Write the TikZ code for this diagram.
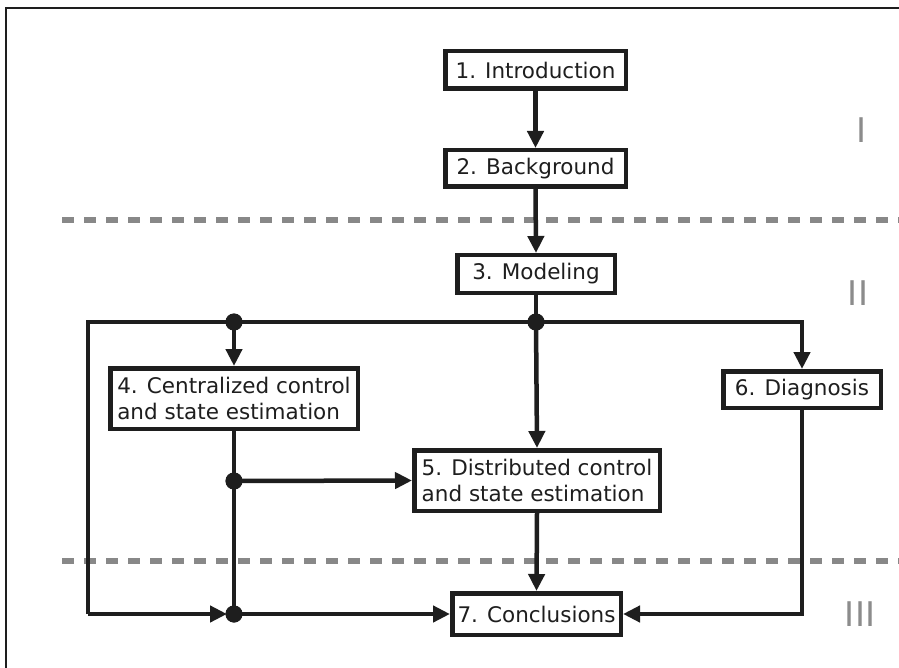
\documentclass[tikz,border=0pt]{standalone}
\usepackage{fontspec}
\setmainfont{DejaVu Sans}
\usetikzlibrary{arrows.meta}
\definecolor{ink}{RGB}{30,30,30}
\definecolor{sep}{RGB}{136,136,136}
\definecolor{roman}{RGB}{140,140,140}
\begin{document}
\begin{tikzpicture}[x=1pt,y=-1pt,
  box/.style={draw=ink,line width=4.5pt,fill=white,inner sep=0pt,text=ink,
    font=\fontsize{21.5}{25.8}\selectfont},
  conn/.style={draw=ink,line width=4.5pt},
  arr/.style={conn,-{Triangle[length=17pt,width=16pt]}},
  dotj/.style={circle,fill=ink,inner sep=0pt,minimum size=17pt},
  sepline/.style={draw=sep,line width=6pt,dash pattern=on 12pt off 10pt},
  rom/.style={text=roman,font=\fontsize{34}{40}\selectfont}]
\useasboundingbox (0,0) rectangle (899,668);
\fill[white] (0,0) rectangle (899,668);
\draw[draw=ink,line width=1.2pt] (899,8) -- (6,8) -- (6,668);
% separators
\draw[sepline] (62,220) -- (899,220);
\draw[sepline] (62,561) -- (899,561);
% roman numerals
\node[rom] (r1) at (862,130) {I};
\node[rom] (r2) at (858,293) {II};
\node[rom] (r3) at (860,614) {III};
% boxes
\node[box,minimum width=180.5pt,minimum height=37.5pt] (b1) at (535.5,70) {1. Introduction};
\node[box,minimum width=180.5pt,minimum height=36.5pt] (b2) at (535.5,168.5) {2. Background};
\node[box,minimum width=157.5pt,minimum height=37.5pt] (b3) at (536,274) {3. Modeling};
\node[box,minimum width=247.5pt,minimum height=60.5pt,align=left] (b4) at (234,398.5) {4. Centralized control\\and state estimation};
\node[box,minimum width=245.5pt,minimum height=60.5pt,align=left] (b5) at (537,480.5) {5. Distributed control\\and state estimation};
\node[box,minimum width=157.5pt,minimum height=36.5pt] (b6) at (802,389.5) {6. Diagnosis};
\node[box,minimum width=168.5pt,minimum height=41.5pt] (b7) at (536.5,614) {7. Conclusions};
% junctions
\coordinate (tl) at (88,322);
\coordinate (tr) at (802,322);
\coordinate (bl) at (88,614);
\coordinate (br) at (802,614);
\node[dotj] (j0) at (234,322) {};
\node[dotj] (j1) at (536,322) {};
\node[dotj] (j2) at (234,481) {};
\node[dotj] (j3) at (234,614) {};
% connectors
\draw[arr] (b1.south) -- (b2.north);
\draw[arr] (b2.south) -- (b3.north);
\draw[conn] (b3.south) -- (j1.center);
\draw[conn,line join=miter] (j1.center) -- (tl) -- (bl);
\draw[arr,shorten >=7pt] (bl) -- (j3.center);
\draw[arr,line join=miter] (j1.center) -- (tr) -- (b6.north);
\draw[arr] (j0.center) -- (b4.north);
\draw[arr] (j1.center) -- (b5.north);
\draw[conn] (b4.south) -- (j3.center);
\draw[arr] (j2.center) -- (b5.west);
\draw[arr] (j3.center) -- (b7.west);
\draw[arr] (b5.south) -- (b7.north);
\draw[arr,line join=miter] (b6.south) -- (br) -- (b7.east);
% redraw dots on top
\node[dotj] at (j0) {};
\node[dotj] at (j1) {};
\node[dotj] at (j2) {};
\node[dotj] at (j3) {};
\end{tikzpicture}
\end{document}
